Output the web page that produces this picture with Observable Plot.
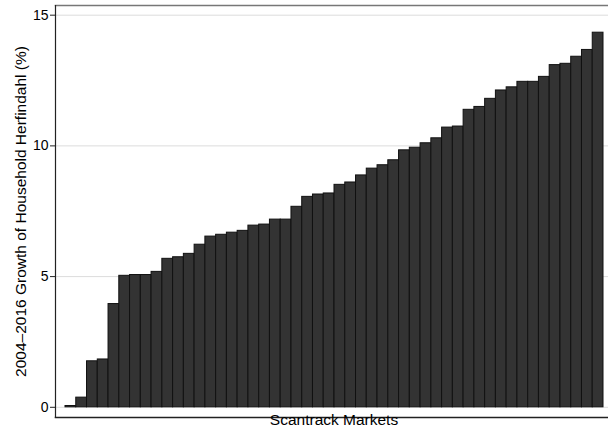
<!DOCTYPE html>
<html>
<head>
<meta charset="utf-8">
<script src="https://cdn.jsdelivr.net/npm/d3@7"></script>
<script src="https://cdn.jsdelivr.net/npm/@observablehq/plot@0.6"></script>
<style>
  html, body { margin: 0; padding: 0; background: #fff; }
  svg { display: block; }
</style>
</head>
<body>
<div id="chart"></div>
<script>
const markets = d3.range(1, 51);
const growth = [
  0.05, 0.37, 1.76, 1.83, 3.95, 5.03, 5.06, 5.06, 5.18, 5.68,
  5.74, 5.87, 6.22, 6.53, 6.60, 6.68, 6.75, 6.95, 6.99, 7.18,
  7.18, 7.67, 8.05, 8.14, 8.18, 8.51, 8.60, 8.87, 9.13, 9.26,
  9.45, 9.83, 9.93, 10.10, 10.29, 10.70, 10.74, 11.38, 11.49, 11.80,
  12.12, 12.24, 12.45, 12.45, 12.64, 13.09, 13.14, 13.41, 13.67, 14.33
];
const yTicks = [0, 5, 10, 15];

const data = markets.map((m, i) => ({market: m, value: growth[i]}));

const font = "'Liberation Sans', Arial, Helvetica, sans-serif";

const chart = Plot.plot({
  width: 608,
  height: 436,
  marginLeft: 55,
  marginRight: 0,
  marginTop: 5,
  marginBottom: 19,
  style: {fontFamily: font, fontSize: "14px", background: "#fff", color: "#000"},
  x: {type: "band", domain: markets, padding: 0, insetLeft: 10, insetRight: 5, axis: null},
  y: {domain: [-0.39, 15.37], axis: null},
  marks: [
    Plot.gridY(yTicks, {stroke: "#dcdcdc", strokeOpacity: 1, strokeWidth: 1}),
    Plot.barY(data, {x: "market", y: "value", fill: "#333333", stroke: "#111", strokeWidth: 1}),
    Plot.frame({anchor: "top", stroke: "#777", strokeWidth: 1.5}),
    Plot.frame({anchor: "left", stroke: "#222", strokeWidth: 1.2}),
    Plot.frame({anchor: "bottom", stroke: "#222", strokeWidth: 1.5}),
    Plot.axisY(yTicks, {
      tickSize: 5, tickPadding: 2, stroke: "#222", fontSize: 14, label: null
    }),
    Plot.text(["2004\u20132016 Growth of Household Herfindahl (%)"], {
      frameAnchor: "left", textAnchor: "middle", dx: -34, rotate: -90,
      fontSize: 15.5, fill: "#000"
    }),
    Plot.text(["Scantrack Markets"], {
      frameAnchor: "bottom", dy: 7, dx: 2, fontSize: 15.5, fill: "#000"
    })
  ]
});

document.getElementById("chart").appendChild(chart);
</script>
</body>
</html>
